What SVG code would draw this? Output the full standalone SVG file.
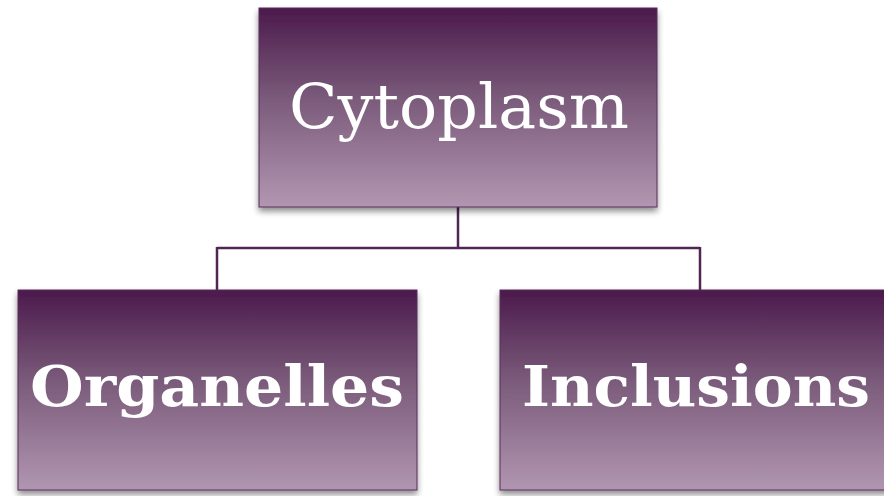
<svg xmlns="http://www.w3.org/2000/svg" width="884" height="496" viewBox="0 0 884 496">
<style>
.box{fill:url(#g);stroke:#5a2d5a;stroke-width:1}
.t1{font-family:"DejaVu Serif","Liberation Serif",serif;fill:#fff;font-size:62px;text-anchor:middle}
.t2{font-family:"DejaVu Serif","Liberation Serif",serif;fill:#fff;font-size:56px;font-weight:bold;text-anchor:middle}
.c{fill:none;stroke:#512654;stroke-width:2.5}
</style>
<defs>
<linearGradient id="g" x1="0" y1="0" x2="0" y2="1">
<stop offset="0" stop-color="#4b1a4c"/>
<stop offset="0.45" stop-color="#7a5a7a"/>
<stop offset="1" stop-color="#b196b1"/>
</linearGradient>
<filter id="sh" x="-10%" y="-10%" width="120%" height="125%">
<feGaussianBlur in="SourceAlpha" stdDeviation="3"/>
<feOffset dx="0" dy="4" result="b"/>
<feComponentTransfer><feFuncA type="linear" slope="0.45"/></feComponentTransfer>
<feMerge><feMergeNode/><feMergeNode in="SourceGraphic"/></feMerge>
</filter>
</defs>
<g id="connectors">
<path class="c" d="M458 207 V248 M217 248 H700 M217 247 V291 M700 247 V291"/>
</g>
<g id="cytoplasm">
<rect class="box" x="259" y="8" width="398" height="199" filter="url(#sh)"/>
<text class="t1" x="459" y="128" textLength="340" lengthAdjust="spacingAndGlyphs">Cytoplasm</text>
</g>
<g id="organelles">
<rect class="box" x="18" y="290" width="399" height="200" filter="url(#sh)"/>
<text class="t2" x="217" y="406" textLength="374" lengthAdjust="spacingAndGlyphs">Organelles</text>
</g>
<g id="inclusions">
<rect class="box" x="500" y="290" width="400" height="200" filter="url(#sh)"/>
<text class="t2" x="696" y="406" textLength="348" lengthAdjust="spacingAndGlyphs">Inclusions</text>
</g>
</svg>
